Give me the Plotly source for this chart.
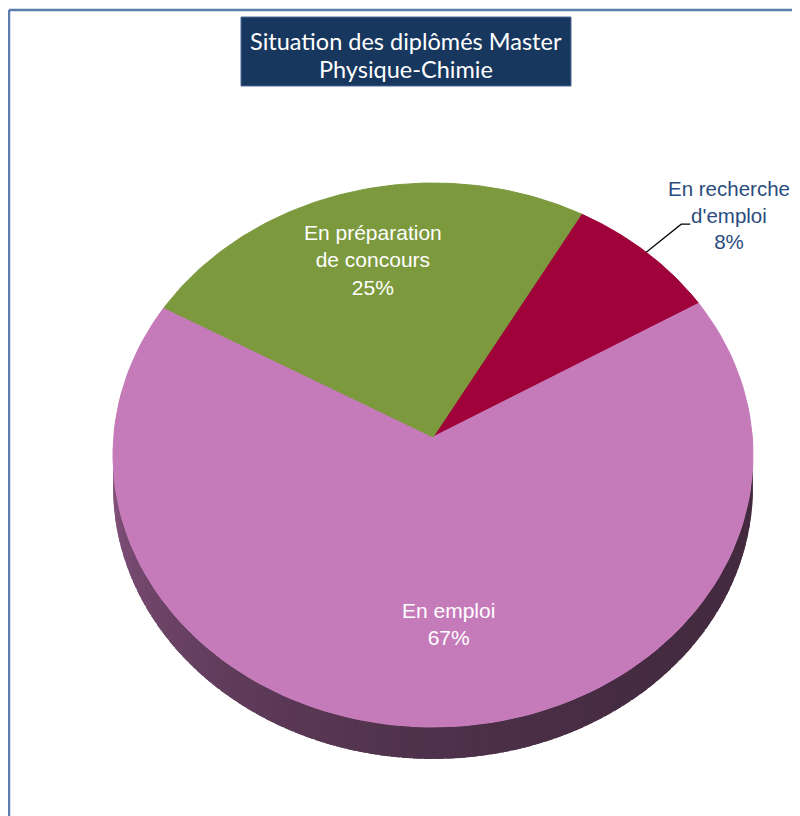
import numpy as np
import plotly.graph_objects as go

# ---------------- data ----------------
categories = ["En recherche d'emploi", "En emploi", "En préparation de concours"]
label_lines = ["En recherche<br>d'emploi", "En emploi", "En préparation<br>de concours"]
values = [8.3, 66.7, 25.0]
title_lines = ["Situation des diplômés Master", "Physique-Chimie"]

# ---------------- style ----------------
colors = ["#A0023A", "#C57BBA", "#7C993D"]
label_colors = ["#2A4C7E", "#FFFFFF", "#FFFFFF"]
W, H = 800, 816
PAD = 8                                        # page body margin
CX, CY, RX, RY = 433.0, 455.0, 320.0, 272.0   # top-face ellipse
AX, AY = 433.0, 437.0                          # apex (projected centre)
DEPTH = 32.0
START = 29.5                                   # first slice angle, clockwise from top
LABEL_K = 0.68
label_offsets = [(0, 0), (13, -10), (-6, -10)]
FONT = "Liberation Sans, Arial, sans-serif"


def hex2rgb(h):
    h = h.lstrip("#")
    return np.array([int(h[i:i + 2], 16) for i in (0, 2, 4)], dtype=float)


def rgb(c):
    c = np.clip(c, 0, 255)
    return "rgb(%d,%d,%d)" % tuple(int(round(x)) for x in c)


def edge_point(phi_deg):
    """Intersection of a ray from the apex (normalised angle phi) with the ellipse."""
    p = np.radians(phi_deg)
    v = (AY - CY) / RY
    c = np.cos(p)
    t = v * c + np.sqrt(v * v * c * c - v * v + 1.0)
    return AX + t * RX * np.sin(p), AY - t * RY * np.cos(p)


total = float(sum(values))
spans = [v / total * 360.0 for v in values]
starts = [START + sum(spans[:i]) for i in range(len(values))]
pcts = [int(round(v / total * 100)) for v in values]

fig = go.Figure()

# ---- 3D side wall (lower half of the ellipse) ----
N = 90
thetas = np.linspace(90, 270, N + 1)
step = thetas[1] - thetas[0]
for i in range(N):
    t0, t1 = thetas[i], thetas[i + 1]
    tm = 0.5 * (t0 + t1)
    px = CX + RX * np.sin(np.radians(tm))
    py = CY - RY * np.cos(np.radians(tm))
    phi = np.degrees(np.arctan2((px - AX) / RX, -(py - AY) / RY)) % 360
    idx = 0
    for k in range(len(values)):
        rel = (phi - starts[k]) % 360
        if rel < spans[k]:
            idx = k
            break
    f = 0.34 + 0.34 * ((tm - 90) / 180.0) ** 2.5
    col = rgb(hex2rgb(colors[idx]) * f)
    t_end = min(t1 + 0.8 * step, 270.0)
    ts = np.radians(np.linspace(t0, t_end, 5))
    xs_top = CX + RX * np.sin(ts)
    ys_top = CY - RY * np.cos(ts)
    xs = np.concatenate([xs_top, xs_top[::-1]])
    ys = np.concatenate([ys_top, ys_top[::-1] + DEPTH])
    fig.add_trace(go.Scatter(x=xs, y=ys, mode="lines", fill="toself",
                             fillcolor=col, line=dict(width=0),
                             hoverinfo="skip", showlegend=False))

# ---- top face slices ----
for k in range(len(values)):
    phis = np.linspace(starts[k], starts[k] + spans[k], 120)
    pts = [edge_point(p) for p in phis]
    xs = [AX] + [p[0] for p in pts] + [AX]
    ys = [AY] + [p[1] for p in pts] + [AY]
    fig.add_trace(go.Scatter(x=xs, y=ys, mode="lines", fill="toself",
                             fillcolor=colors[k], line=dict(color=colors[k], width=1),
                             name=categories[k], hoverinfo="name", showlegend=False))

annotations = []
# ---- labels ----
for k in range(len(values)):
    mid = starts[k] + spans[k] / 2.0
    ex, ey = edge_point(mid)
    text = "%s<br>%d%%" % (label_lines[k], pcts[k])
    if k == 0:
        # outside label with leader line
        bx, by = ex + 35, ey - 28
        cx2, cy2 = bx + 9, by
        fig.add_trace(go.Scatter(x=[ex, bx, cx2], y=[ey, by, cy2], mode="lines",
                                 line=dict(color="#000000", width=1.2),
                                 hoverinfo="skip", showlegend=False))
        annotations.append(dict(x=cx2 + 39, y=cy2 - 9, text=text, showarrow=False,
                                xanchor="center", yanchor="middle", align="center",
                                font=dict(family=FONT, size=20.5, color=label_colors[k])))
    else:
        lx = AX + LABEL_K * (ex - AX) + label_offsets[k][0]
        ly = AY + LABEL_K * (ey - AY) + label_offsets[k][1]
        annotations.append(dict(x=lx, y=ly, text=text, showarrow=False,
                                xanchor="center", yanchor="middle", align="center",
                                font=dict(family=FONT, size=21, color=label_colors[k])))

# ---- title box ----
for j, line in enumerate(title_lines):
    annotations.append(dict(x=406, y=41 + 28 * j, text=line, showarrow=False,
                            xanchor="center", yanchor="middle", align="center",
                            font=dict(family="Lato, Open Sans, sans-serif", size=23.5,
                                      color="#FFFFFF")))

shapes = [
    dict(type="rect", xref="x", yref="y", x0=241, x1=571, y0=17, y1=86,
         fillcolor="#17375E", line=dict(color="#4A6A96", width=1), layer="below"),
    dict(type="line", xref="x", yref="y", x0=9, x1=W, y0=10, y1=10,
         line=dict(color="#5A7DAA", width=2.5)),
    dict(type="line", xref="x", yref="y", x0=9, x1=9, y0=10, y1=H,
         line=dict(color="#5A7DAA", width=2.5)),
]

fig.update_layout(
    width=W - PAD, height=H - PAD,
    margin=dict(l=0, r=0, t=0, b=0),
    paper_bgcolor="white", plot_bgcolor="white",
    xaxis=dict(range=[PAD, W], visible=False, fixedrange=True),
    yaxis=dict(range=[H, PAD], visible=False, fixedrange=True),
    annotations=annotations,
    shapes=shapes,
    showlegend=False,
)

fig.write_html("out.html")
